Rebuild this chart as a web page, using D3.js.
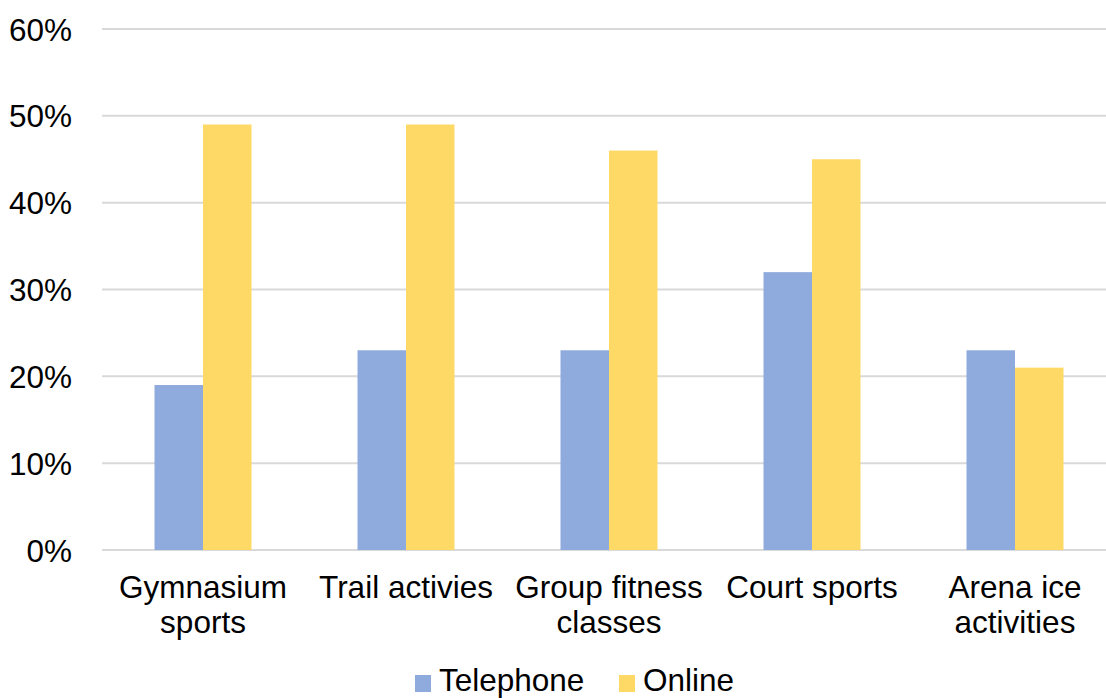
<!DOCTYPE html>
<html>
<head>
<meta charset="utf-8">
<script src="https://cdn.jsdelivr.net/npm/d3@7"></script>
<style>
  html, body { margin: 0; padding: 0; background: #fff; }
  svg { display: block; font-family: Arial, "Liberation Sans", sans-serif; }
</style>
</head>
<body>
<svg id="chart" width="1106" height="698"></svg>
<script>
const categories = [["Gymnasium", "sports"], ["Trail activies"], ["Group fitness", "classes"], ["Court sports"], ["Arena ice", "activities"]];
const seriesNames = ["Telephone", "Online"];
const telephone = [0.19, 0.23, 0.23, 0.32, 0.23];
const online = [0.49, 0.49, 0.46, 0.45, 0.21];
const yTicks = [0, 0.1, 0.2, 0.3, 0.4, 0.5, 0.6];
const colors = ["#8FAADC", "#FFD966"];

const svg = d3.select("#chart");
const catKeys = categories.map(c => c.join(" "));
const values = [telephone, online];

const x0 = d3.scaleBand().domain(catKeys).range([101.5, 1116.5]).padding(0);
const x1 = d3.scaleBand().domain(seriesNames).range([0, x0.bandwidth()]).paddingInner(0).paddingOuter(1.093);
const y = d3.scaleLinear().domain([0, 0.6]).range([550, 29]);

// gridlines
svg.append("g").selectAll("line").data(yTicks).join("line")
  .attr("x1", 102).attr("x2", 1106)
  .attr("y1", d => y(d)).attr("y2", d => y(d))
  .attr("stroke", "#d9d9d9").attr("stroke-width", 2);

// y axis labels
const yAxis = d3.axisLeft(y).tickValues(yTicks).tickFormat(d3.format(".0%")).tickSize(0).tickPadding(0);
const ya = svg.append("g").attr("transform", "translate(72,0)").call(yAxis);
ya.select(".domain").remove();
ya.selectAll("text").attr("font-size", 31.5).attr("fill", "#000").attr("font-family", "Arial, 'Liberation Sans', sans-serif").attr("dy", "0.35em");

// bars
const groups = svg.append("g").selectAll("g").data(catKeys).join("g")
  .attr("transform", d => `translate(${x0(d)},0)`);
groups.selectAll("rect").data((d, i) => seriesNames.map((s, j) => ({ s, v: values[j][i], j })))
  .join("rect")
  .attr("x", d => x1(d.s))
  .attr("width", x1.bandwidth())
  .attr("y", d => y(d.v))
  .attr("height", d => y(0) - y(d.v))
  .attr("fill", d => colors[d.j]);

// category labels
const xl = svg.append("g").selectAll("text").data(categories).join("text")
  .attr("x", (d, i) => x0(catKeys[i]) + x0.bandwidth() / 2)
  .attr("y", 598)
  .attr("text-anchor", "middle")
  .attr("font-size", 31.5)
  .attr("fill", "#000");
xl.selectAll("tspan").data(d => d).join("tspan")
  .attr("x", function() { return this.parentNode.getAttribute("x"); })
  .attr("dy", (d, i) => i === 0 ? 0 : 35)
  .text(d => d);

// legend
const legendItems = [{ name: "Telephone", x: 415 }, { name: "Online", x: 619 }];
const lg = svg.append("g").selectAll("g").data(seriesNames).join("g")
  .attr("transform", (d, i) => `translate(${legendItems[i].x},0)`);
lg.append("rect").attr("x", 0).attr("y", 675).attr("width", 16).attr("height", 17)
  .attr("fill", (d, i) => colors[i]);
lg.append("text").attr("x", 24).attr("y", 691).attr("font-size", 31.5).attr("fill", "#000").text(d => d);
</script>
</body>
</html>
